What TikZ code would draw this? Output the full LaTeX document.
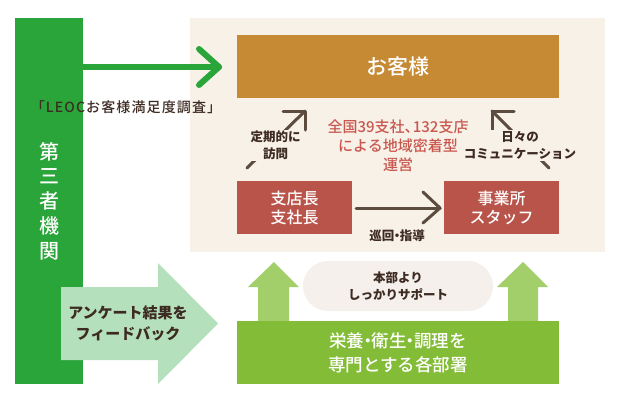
\documentclass[tikz,border=0pt]{standalone}
\usepackage{fontspec}
\setmainfont{Noto Sans CJK JP}
\newfontfamily\jpm{Noto Sans CJK JP Medium}
\usetikzlibrary{calc}
\definecolor{barc}{HTML}{2AA53A}
\definecolor{panelc}{HTML}{F8F1E8}
\definecolor{custc}{HTML}{C68A34}
\definecolor{redbox}{HTML}{B9544B}
\definecolor{redtext}{HTML}{C8584F}
\definecolor{arrowc}{HTML}{5C4B3F}
\definecolor{darktext}{HTML}{3D2B22}
\definecolor{fbc}{HTML}{B5E0BC}
\definecolor{upc}{HTML}{A2CF6A}
\definecolor{deptc}{HTML}{83BC36}
\definecolor{pillc}{HTML}{F5F0EC}
\newcommand{\nd}{\kern-0.28em・\kern-0.28em}
\begin{document}
\begin{tikzpicture}[x=1pt,y=-1pt,
  every node/.style={inner sep=0pt, outer sep=0pt},
  boxnode/.style={text=white, align=center},
  lbl/.style={text=darktext, font=\bfseries\fontsize{12.5}{17}\selectfont, align=center},
  darr/.style={draw=arrowc, line width=3pt, line cap=round, line join=round},
  garr/.style={draw=barc, line width=6pt, line cap=round, line join=round}]
\useasboundingbox (0,0) rectangle (620,400);
\fill[white] (0,0) rectangle (620,400);

% panel
\node[fill=panelc, minimum width=415pt, minimum height=234pt] (panel) at (397.5,135) {};

% third-party bar
\node[fill=barc, minimum width=68pt, minimum height=366pt, boxnode,
      font=\jpm\fontsize{20}{24.75}\selectfont] (bar) at (49,201) {第\\三\\者\\機\\関};

% customer
\node[fill=custc, minimum width=322pt, minimum height=63pt, boxnode,
      font=\jpm\fontsize{21}{24}\selectfont] (cust) at (398,66.5) {お客様};

% branch / staff
\node[fill=redbox, minimum width=115pt, minimum height=53pt, boxnode,
      font=\jpm\fontsize{16}{19}\selectfont] (branch) at (294.5,207.5) {支店長\\支社長};
\node[fill=redbox, minimum width=115pt, minimum height=53pt, boxnode,
      font=\jpm\fontsize{16}{19}\selectfont] (staff) at (501.5,207.5) {事業所\\スタッフ};

% green survey arrow
\coordinate (gtip) at (219,67);
\draw[garr] (bar.east |- gtip) -- (gtip);
\draw[garr] ($(gtip)+(-20,-18)$) -- (gtip) -- ($(gtip)+(-20,18)$);
\node[text=darktext, font=\jpm\fontsize{14}{16}\selectfont\addfontfeatures{LetterSpace=8}] (survey) at (126,107) {「LEOCお客様満足度調査」};

% center red text
\node[text=redtext, font=\jpm\fontsize{15}{19}\selectfont, align=center] (area) at (398,146) {全国39支社、\kern-0.45em132支店\\による地域密着型\\運営};

% diagonal arrows
\coordinate (d1s) at (247,168);
\coordinate (d1e) at (305,111);
\draw[darr] (d1s) -- (d1e);
\draw[darr] ($(d1e)+(-22,0)$) -- (d1e) -- ($(d1e)+(0,19)$);
\node[lbl, fill=panelc, inner sep=1.5pt] (visit) at (275.5,145.5) {定期的に\\訪問};

\coordinate (d2s) at (549,168);
\coordinate (d2e) at (492,111);
\draw[darr] (d2s) -- (d2e);
\draw[darr] ($(d2e)+(22,0)$) -- (d2e) -- ($(d2e)+(0,19)$);
\node[lbl, fill=panelc, inner sep=1.5pt] (comm) at (520,145.5) {日々の\\コミュニケーション};

% horizontal arrow
\coordinate (hs) at (branch.east |- 0,208);
\coordinate (he) at (440,208);
\draw[darr] ($(hs)+(4,0)$) -- (he);
\draw[darr] ($(he)+(-17,-16)$) -- (he) -- ($(he)+(-17,15)$);
\node[lbl] (patrol) at (397,236) {巡回\nd 指導};

% up arrows
\fill[upc] (258,322) -- (258,287) -- (248,287) -- (274,262) -- (299,287) -- (289,287) -- (289,322) -- cycle;
\fill[upc] (508,322) -- (508,287) -- (497,287) -- (523,262) -- (548,287) -- (538,287) -- (538,322) -- cycle;

% support pill
\node[fill=pillc, minimum width=190pt, minimum height=50pt, rounded corners=25pt,
      lbl] (pill) at (398,286) {本部より\\しっかりサポート};

% departments
\node[fill=deptc, minimum width=322pt, minimum height=63pt, boxnode,
      font=\jpm\fontsize{17.5}{24}\selectfont] (dept) at (398,352.5) {栄養\nd 衛生\nd 調理を\\専門とする各部署};

% feedback arrow
\fill[fbc] (61,287) -- (158,287) -- (158,263) -- (218,323.5) -- (158,384) -- (158,360) -- (61,360) -- cycle;
\node[text=darktext, font=\bfseries\fontsize{15}{21}\selectfont, align=center] (fb) at (128,323.5) {アンケート結果を\\フィードバック};
\end{tikzpicture}
\end{document}
